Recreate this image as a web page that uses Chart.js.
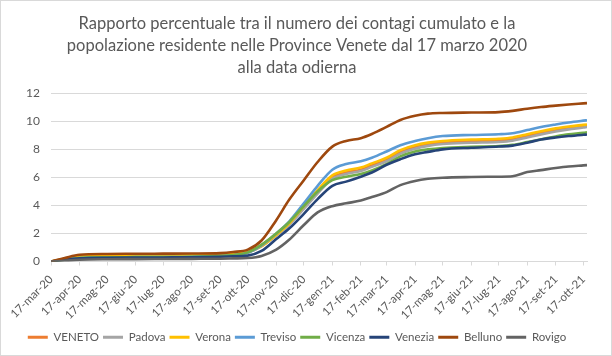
<!DOCTYPE html>
<html><head><meta charset="utf-8">
<script src="https://cdn.jsdelivr.net/npm/chart.js@4"></script>
<style>
html,body{margin:0;padding:0;background:#fff}
#wrap{position:relative;width:612px;height:356px;box-sizing:border-box;border:1px solid #d9d9d9}
</style></head><body>
<div id="wrap"><canvas id="c"></canvas></div>
<script>
const dates = ['2020-03-17','2020-04-01','2020-04-17','2020-05-17','2020-06-17','2020-07-17','2020-08-17','2020-09-17','2020-10-01','2020-10-17','2020-11-01','2020-11-17','2020-12-01','2020-12-17','2021-01-01','2021-01-17','2021-02-01','2021-02-17','2021-03-01','2021-03-17','2021-04-01','2021-04-17','2021-05-01','2021-05-17','2021-06-17','2021-07-17','2021-08-01','2021-08-17','2021-09-01','2021-09-17','2021-10-01','2021-10-17','2021-10-21'];
const VENETO  = [0,0.15,0.3,0.37,0.39,0.4,0.42,0.46,0.5,0.65,1.1,1.9,2.7,3.85,4.95,6.0,6.35,6.55,6.85,7.25,7.8,8.15,8.35,8.47,8.57,8.63,8.72,8.95,9.17,9.38,9.52,9.65,9.68];
const Padova  = [0,0.2,0.36,0.41,0.42,0.43,0.45,0.48,0.52,0.66,1.1,1.85,2.6,3.75,4.85,5.9,6.25,6.45,6.75,7.15,7.7,8.05,8.25,8.38,8.47,8.53,8.62,8.85,9.07,9.28,9.43,9.56,9.6];
const Verona  = [0,0.2,0.38,0.44,0.46,0.47,0.49,0.53,0.56,0.68,1.1,1.9,2.7,3.95,5.1,6.15,6.5,6.7,7.0,7.4,7.95,8.3,8.48,8.6,8.7,8.76,8.85,9.08,9.3,9.5,9.63,9.75,9.78];
const Treviso = [0,0.15,0.25,0.3,0.31,0.32,0.34,0.4,0.45,0.62,1.15,2.0,2.85,4.15,5.4,6.55,6.95,7.15,7.4,7.85,8.3,8.6,8.8,8.95,9.03,9.08,9.15,9.38,9.6,9.78,9.92,10.05,10.08];
const Vicenza = [0,0.12,0.25,0.3,0.31,0.32,0.34,0.4,0.46,0.65,1.2,2.0,2.8,3.95,5.0,5.8,6.05,6.25,6.5,6.95,7.5,7.85,8.0,8.1,8.18,8.23,8.32,8.52,8.72,8.92,9.07,9.18,9.22];
const Venezia = [0,0.12,0.22,0.27,0.28,0.29,0.3,0.34,0.37,0.42,0.75,1.6,2.35,3.4,4.45,5.4,5.7,6.05,6.35,6.9,7.3,7.65,7.82,8.0,8.12,8.2,8.27,8.48,8.7,8.85,8.95,9.04,9.06];
const Belluno = [0,0.25,0.48,0.54,0.55,0.56,0.57,0.6,0.68,0.85,1.5,2.95,4.4,5.8,7.1,8.2,8.6,8.8,9.1,9.6,10.1,10.4,10.55,10.6,10.63,10.66,10.75,10.9,11.02,11.12,11.2,11.28,11.3];
const Rovigo  = [0,0.05,0.12,0.16,0.17,0.18,0.19,0.2,0.22,0.25,0.4,0.85,1.55,2.6,3.5,3.95,4.15,4.35,4.6,4.95,5.45,5.75,5.9,5.98,6.03,6.05,6.08,6.38,6.52,6.67,6.78,6.86,6.88];
const seriesNames = ['VENETO','Padova','Verona','Treviso','Vicenza','Venezia','Belluno','Rovigo'];
const tickDates = ['2020-03-17','2020-04-17','2020-05-17','2020-06-17','2020-07-17','2020-08-17','2020-09-17','2020-10-17','2020-11-17','2020-12-17','2021-01-17','2021-02-17','2021-03-17','2021-04-17','2021-05-17','2021-06-17','2021-07-17','2021-08-17','2021-09-17','2021-10-17'];
const tickLabels = ['17-mar-20','17-apr-20','17-mag-20','17-giu-20','17-lug-20','17-ago-20','17-set-20','17-ott-20','17-nov-20','17-dic-20','17-gen-21','17-feb-21','17-mar-21','17-apr-21','17-mag-21','17-giu-21','17-lug-21','17-ago-21','17-set-21','17-ott-21'];
const titleLines = ['Rapporto percentuale tra il numero dei contagi cumulato e la','popolazione residente nelle Province Venete dal 17 marzo 2020','alla data odierna'];

const colors = ['#ed7d31','#a5a5a5','#ffc000','#5b9bd5','#70ad47','#264478','#9e480e','#636363'];
const allSeries = [VENETO,Padova,Verona,Treviso,Vicenza,Venezia,Belluno,Rovigo];
const start = Date.UTC(2020,2,17);
function dayOf(s){const p=s.split('-').map(Number);return Math.round((Date.UTC(p[0],p[1]-1,p[2])-start)/86400000);}
const xs = dates.map(dayOf);
const tickDays = tickDates.map(dayOf);
const labelByDay = {}; tickDays.forEach((d,i)=>labelByDay[d]=tickLabels[i]);

const datasets = allSeries.map((arr,i)=>({
  label: seriesNames[i],
  data: arr.map((v,j)=>({x:xs[j], y:v})),
  borderColor: colors[i],
  backgroundColor: colors[i],
  borderWidth: 2.6,
  pointRadius: 0,
  cubicInterpolationMode: 'monotone',
  order: allSeries.length - i
}));

const FONT = 'Lato, "Liberation Sans", sans-serif';
new Chart(document.getElementById('c'), {
  type: 'line',
  data: { datasets },
  options: {
    responsive: true, maintainAspectRatio: false, animation: false,
    layout: { padding: { left: 6, right: 24, top: 0, bottom: 2 } },
    plugins: {
      title: { display: true, text: titleLines, color: '#595959',
        font: { family: FONT, size: 16.5, weight: 'normal', lineHeight: 1.36 },
        padding: { top: 11, bottom: 14 } },
      legend: { position: 'bottom',
        labels: { color: '#595959', font: { family: FONT, size: 11.5 }, boxWidth: 20, boxHeight: 3, padding: 4,
          sort: (a,b)=>a.datasetIndex-b.datasetIndex,
          generateLabels: (chart)=>{
            const items = Chart.defaults.plugins.legend.labels.generateLabels(chart);
            items.forEach(it=>{ it.lineWidth = 0; it.strokeStyle = it.fillStyle; });
            return items;
          } } },
      tooltip: { enabled: false }
    },
    scales: {
      x: { type: 'linear', min: 0, max: xs[xs.length-1],
        afterBuildTicks: (s)=>{ s.ticks = tickDays.map(v=>({value:v})); },
        afterFit: (s)=>{ s.height = 66; },
        ticks: { autoSkip: false, maxRotation: 45, minRotation: 45, color: '#595959', padding: 7,
          font: { family: FONT, size: 11.5 }, callback: (v)=>labelByDay[v] || '' },
        grid: { drawOnChartArea: false, drawTicks: true, tickLength: 4, color: '#d9d9d9' },
        border: { color: '#d9d9d9' } },
      y: { min: 0, max: 12,
        afterFit: (s)=>{ s.width = 44; },
        ticks: { stepSize: 2, color: '#595959', padding: 11, font: { family: FONT, size: 12 } },
        grid: { color: '#d9d9d9', drawTicks: false },
        border: { display: false } }
    }
  }
});
</script>
</body></html>
